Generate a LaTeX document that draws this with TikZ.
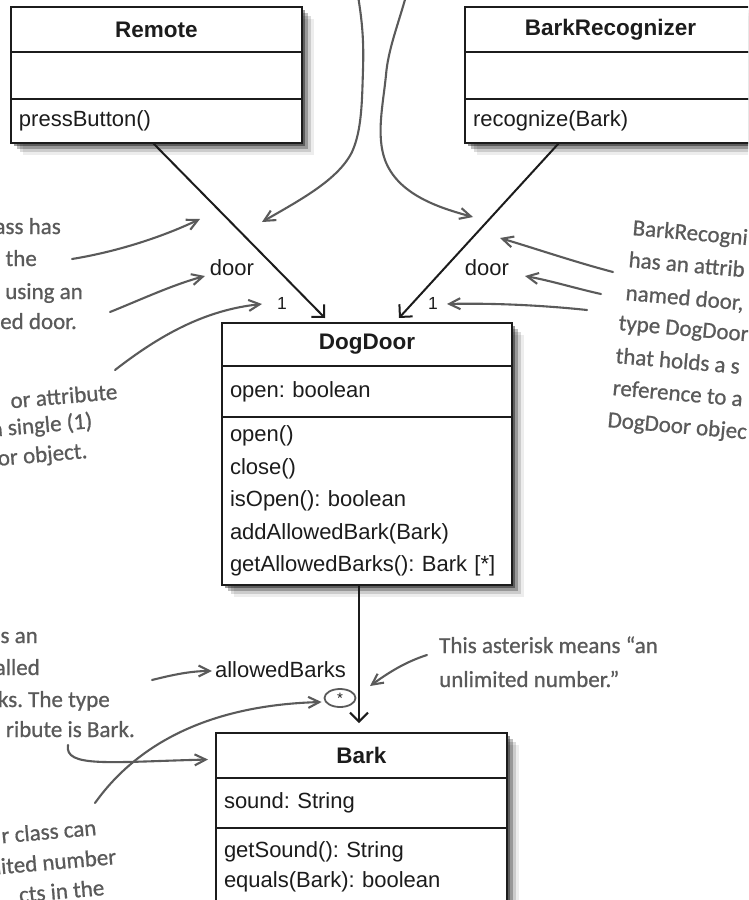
\documentclass[tikz,border=0pt]{standalone}
\usepackage{fontspec}
\setmainfont{Liberation Sans}
\newfontfamily\handfont[FakeBold=0.8]{Carlito}
\usetikzlibrary{arrows.meta,shadows,shapes.geometric}
\definecolor{ink}{HTML}{1C1C1C}
\definecolor{pencil}{HTML}{5A5A5A}
\tikzset{
  shadowbox/.style={fill=white, inner sep=0pt, outer sep=0pt, anchor=north west,
    drop shadow={shadow xshift=3pt,shadow yshift=-3pt,opacity=.4,fill=black},
    drop shadow={shadow xshift=6pt,shadow yshift=-6pt,opacity=.25,fill=black},
    drop shadow={shadow xshift=9pt,shadow yshift=-9pt,opacity=.14,fill=black},
    drop shadow={shadow xshift=12pt,shadow yshift=-12pt,opacity=.07,fill=black}},
  comp/.style={draw=ink, line width=2.4pt, anchor=north west, inner sep=0pt, outer sep=0pt,
    text=ink, font=\fontsize{22}{26}\selectfont},
  hdr/.style={comp, align=center, font=\fontsize{22.5}{26}\selectfont\bfseries},
  body/.style={comp, align=left},
  assoc/.style={draw=ink, line width=2pt, -{Straight Barb[length=9pt,width=18pt]}},
  lbl/.style={text=ink, inner sep=0pt, font=\fontsize{22}{26}\selectfont},
  small/.style={text=ink, inner sep=0pt, font=\fontsize{17.5}{20}\selectfont},
  hand/.style={text=pencil, inner sep=0pt, font=\handfont\fontsize{23}{32}\selectfont},
  pencilarrow/.style={draw=pencil, line width=2.1pt, line cap=round, -{Straight Barb[length=11pt,width=11pt]}},
}
\begin{document}
\frenchspacing
\begin{tikzpicture}[x=1pt,y=-1pt]
\useasboundingbox (0,0) rectangle (748,900);
\clip (0,0) rectangle (748,900);

% ---------- Remote ----------
\node[shadowbox, minimum width=291pt, minimum height=136pt] (remote) at (11,7) {};
\node[hdr, minimum width=291pt, minimum height=45pt, text width=275pt] (remoteName) at (11,7) {Remote};
\node[body, minimum width=291pt, minimum height=47pt, text width=275pt] (remoteAttr) at (11,52) {};
\node[body, minimum width=291pt, minimum height=44pt, text width=275pt] (remoteOps) at (11,99) {pressButton()};

% ---------- BarkRecognizer ----------
\node[shadowbox, minimum width=291pt, minimum height=136pt] (barkRec) at (465,7) {};
\node[hdr, minimum width=291pt, minimum height=45pt, text width=275pt] (barkRecName) at (465,7) {BarkRecognizer};
\node[body, minimum width=291pt, minimum height=47pt, text width=275pt] (barkRecAttr) at (465,52) {};
\node[body, minimum width=291pt, minimum height=44pt, text width=275pt] (barkRecOps) at (465,99) {recognize(Bark)};

% ---------- DogDoor ----------
\node[shadowbox, minimum width=290pt, minimum height=262pt] (dog) at (222,323) {};
\node[hdr, minimum width=290pt, minimum height=43pt, text width=274pt] (dogName) at (222,323) {DogDoor};
\node[body, minimum width=290pt, minimum height=51pt, text width=274pt] (dogAttr) at (222,366) {open: boolean};
\node[body, minimum width=290pt, minimum height=168pt, text width=274pt, font=\fontsize{22}{32.5}\selectfont] (dogOps) at (222,417)
  {open()\\close()\\isOpen(): boolean\\addAllowedBark(Bark)\\getAllowedBarks(): Bark [*]};

% ---------- Bark ----------
\node[shadowbox, minimum width=291pt, minimum height=172pt] (bark) at (216,733) {};
\node[hdr, minimum width=291pt, minimum height=45pt, text width=275pt] (barkName) at (216,733) {Bark};
\node[body, minimum width=291pt, minimum height=50pt, text width=275pt] (barkAttr) at (216,778) {sound: String};
\node[body, minimum width=291pt, minimum height=77pt, text width=275pt, font=\fontsize{22}{30}\selectfont] (barkOps) at (216,828)
  {getSound(): String\\equals(Bark): boolean};

% ---------- associations ----------
\draw[assoc] ([xshift=-3.5pt]remoteOps.south) -- ([xshift=-42pt,yshift=5pt]dogName.north);
\draw[assoc] ([xshift=-51.5pt]barkRecOps.south) -- ([xshift=32pt,yshift=5pt]dogName.north);
\coordinate (barkTip) at (359,723);
\draw[assoc] (dogOps.south -| barkTip) -- (barkTip);

% ---------- association labels ----------
\node[lbl] (doorL) at (232,268) {door};
\node[small] (oneL) at (282,303) {1};
\node[lbl] (doorR) at (487,268) {door};
\node[small] (oneR) at (433,303) {1};
\node[lbl] (allowed) at (280.5,670) {allowedBarks};
\node[ellipse, draw=pencil, line width=1.8pt, minimum width=31pt, minimum height=18pt, inner sep=0pt] (star) at (340,698)
  {\fontsize{15}{15}\selectfont\color{ink}*};

% ---------- handwritten notes ----------
\node[hand, anchor=base east] (tl1) at (61,234) {ass has};
\node[hand, anchor=base east] (tl2) at (37,266) {the};
\node[hand, anchor=base east] (tl3) at (83,299) {, using an};
\node[hand, anchor=base east] (tl4) at (77,329) {ed door.};

\node[hand, anchor=base east, rotate=5] (ml1) at (118,399) {or attribute};
\node[hand, anchor=base east, rotate=5] (ml2) at (93,428) {a single (1)};
\node[hand, anchor=base east, rotate=5] (ml3) at (88,458) {oor object.};

\node[hand, anchor=base west, rotate=-5] (r1) at (632,235) {BarkRecogni};
\node[hand, anchor=base west, rotate=-5] (r2) at (628,267) {has an attrib};
\node[hand, anchor=base west, rotate=-5] (r3) at (625,300) {named door,};
\node[hand, anchor=base west, rotate=-5] (r4) at (618,330) {type DogDoor};
\node[hand, anchor=base west, rotate=-5] (r5) at (615,363) {that holds a s};
\node[hand, anchor=base west, rotate=-5] (r6) at (612,395) {reference to a};
\node[hand, anchor=base west, rotate=-5] (r7) at (607,427) {DogDoor objec};

\node[hand, anchor=base east] (bl1) at (38,643) {s an};
\node[hand, anchor=base east] (bl2) at (40,675) {alled};
\node[hand, anchor=base east] (bl3) at (110,707) {ks. The type};
\node[hand, anchor=base east] (bl4) at (135,737) {ribute is Bark.};

\node[hand, anchor=base east, rotate=5] (bb1) at (97,835) {r class can};
\node[hand, anchor=base east, rotate=5] (bb2) at (117,864) {nited number};
\node[hand, anchor=base east, rotate=5] (bb3) at (105,895) {cts in the};

\node[hand, anchor=base west] (br1) at (439,653) {This asterisk means “an};
\node[hand, anchor=base west] (br2) at (439,687) {unlimited number.”};

% ---------- pencil arrows ----------
\coordinate (w1s) at (358,-4);  \coordinate (w1e) at (262,222);
\coordinate (w2s) at (406,-4);  \coordinate (w2e) at (473,217);
\draw[pencilarrow] (w1s) .. controls (362,20) and (364,40) .. (363,70)
  .. controls (362,100) and (362,130) .. (352,152)
  .. controls (338,180) and (300,200) .. (w1e);
\draw[pencilarrow] (w2s) .. controls (398,25) and (388,50) .. (386,75)
  .. controls (383,105) and (376,135) .. (385,160)
  .. controls (398,195) and (440,208) .. (w2e);

\coordinate (a1s) at (72,259);  \coordinate (a1e) at (200,219);
\coordinate (a2s) at (110,312); \coordinate (a2e) at (205,276);
\coordinate (a3s) at (115,370); \coordinate (a3e) at (262,304);
\draw[pencilarrow] (a1s) .. controls (115,252) and (160,238) .. (a1e);
\draw[pencilarrow] (a2s) .. controls (140,300) and (172,285) .. (a2e);
\draw[pencilarrow] (a3s) .. controls (160,335) and (205,310) .. (a3e);

\coordinate (a4s) at (613,272); \coordinate (a4e) at (500,238);
\coordinate (a5s) at (601,294); \coordinate (a5e) at (525,276);
\coordinate (a6s) at (587,310); \coordinate (a6e) at (447,304);
\draw[pencilarrow] (a4s) .. controls (575,262) and (540,250) .. (a4e);
\draw[pencilarrow] (a5s) .. controls (578,289) and (552,281) .. (a5e);
\draw[pencilarrow] (a6s) .. controls (540,305) and (490,303) .. (a6e);

\coordinate (a7s) at (152,680);
\draw[pencilarrow] (a7s) .. controls (172,675) and (190,671) .. ([xshift=-3pt,yshift=-1pt]allowed.west);
\coordinate (a8s) at (68,745);
\draw[pencilarrow] (a8s) .. controls (64,768) and (110,762) .. ([xshift=-8pt,yshift=-4pt]barkName.west);
\coordinate (a9s) at (95,803);
\draw[pencilarrow] (a9s) .. controls (140,740) and (215,705) .. ([xshift=-2pt,yshift=-4pt]star.west);
\coordinate (a10s) at (427,655); \coordinate (a10e) at (370,686);
\draw[pencilarrow] (a10s) .. controls (405,662) and (388,673) .. (a10e);
\end{tikzpicture}
\end{document}
